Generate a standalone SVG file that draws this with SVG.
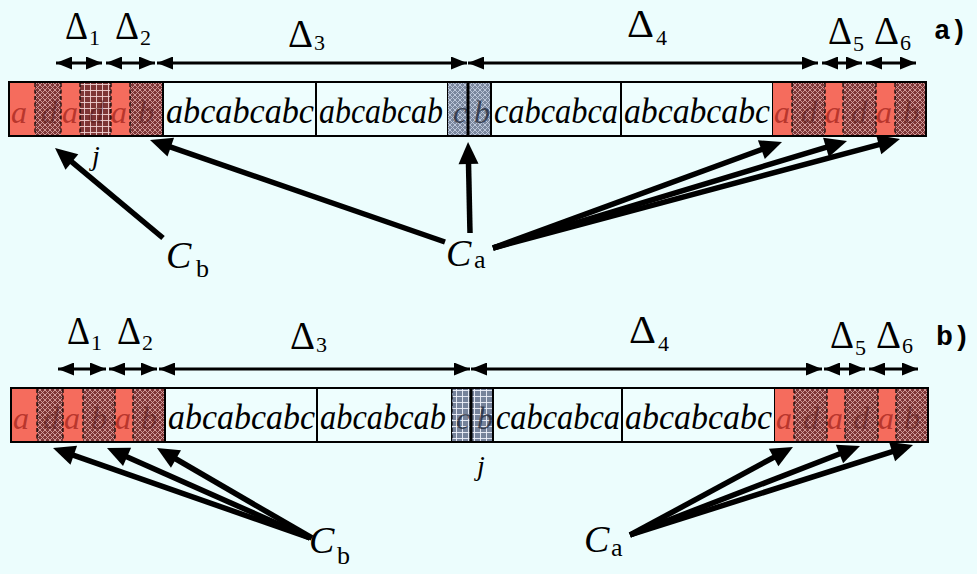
<svg xmlns="http://www.w3.org/2000/svg" width="977" height="574" viewBox="0 0 977 574">
<defs>
<pattern id="xh" patternUnits="userSpaceOnUse" width="5" height="5">
<rect width="5" height="5" fill="#7e3535"/>
<path d="M0,0 L5,5 M5,0 L0,5" stroke="#d6a3a3" stroke-width="0.9"/>
</pattern>
<pattern id="grid" patternUnits="userSpaceOnUse" width="6" height="6">
<rect width="6" height="6" fill="#7e3535"/>
<path d="M0,0.5 H6 M0.5,0 V6" stroke="#f0d0d0" stroke-width="0.9"/>
</pattern>
<pattern id="gxh" patternUnits="userSpaceOnUse" width="5" height="5">
<rect width="5" height="5" fill="#7a879d"/>
<path d="M0,0 L5,5 M5,0 L0,5" stroke="#c3cde0" stroke-width="0.9"/>
</pattern>
<pattern id="ggrid" patternUnits="userSpaceOnUse" width="6" height="6">
<rect width="6" height="6" fill="#76839b"/>
<path d="M0,0.5 H6 M0.5,0 V6" stroke="#eef2fa" stroke-width="0.9"/>
</pattern>
<marker id="sa" viewBox="0 0 16 13" markerWidth="16" markerHeight="13" refX="16" refY="6.5" markerUnits="userSpaceOnUse" orient="auto-start-reverse">
<path d="M0,0 L16,6.5 L0,13 z" fill="#000"/>
</marker>
<marker id="ba" viewBox="0 0 22 20" markerWidth="22" markerHeight="20" refX="6" refY="10" markerUnits="userSpaceOnUse" orient="auto" overflow="visible">
<path d="M0,0 L22,10 L0,20 z" fill="#000"/>
</marker>
</defs>
<style>
.red{fill:#f56c5d}
.hx{fill:url(#xh)}
.gr{fill:url(#grid)}
.gx{fill:url(#gxh)}
.gg{fill:url(#ggrid)}
.box{fill:#eefefe;stroke:#000;stroke-width:2}
.frame{fill:none;stroke:#000;stroke-width:2}
.dash{stroke:#000;stroke-width:1.2;stroke-dasharray:4 2.5}
.div{stroke:#000;stroke-width:3}
.it{font-family:"Liberation Serif","DejaVu Serif",serif;font-style:italic;font-size:36px;fill:#000}
.ra{font-family:"Liberation Serif","DejaVu Serif",serif;font-style:italic;font-size:32px;fill:#a82820;fill-opacity:0.8}
.hl{font-family:"Liberation Serif","DejaVu Serif",serif;font-style:italic;font-size:32px;fill:#4a0c0c;fill-opacity:0.45}
.gl{font-family:"Liberation Serif","DejaVu Serif",serif;font-style:italic;font-size:32px;fill:#1a2233;fill-opacity:0.75}
.dl{font-family:"Liberation Serif","DejaVu Serif",serif;font-size:40px;fill:#000}
.ds{font-family:"Liberation Serif","DejaVu Serif",serif;font-size:22px;fill:#000}
.cl{font-family:"Liberation Serif","DejaVu Serif",serif;font-style:italic;font-size:38px;fill:#000}
.cs{font-family:"Liberation Serif","DejaVu Serif",serif;font-size:26px;fill:#000}
.jl{font-family:"Liberation Serif","DejaVu Serif",serif;font-style:italic;font-size:28px;fill:#000}
.lab{font-family:"Liberation Mono","DejaVu Sans Mono",monospace;font-weight:bold;font-size:27px;fill:#000}
.dim{stroke:#000;stroke-width:3;fill:none;marker-start:url(#sa);marker-end:url(#sa)}
.con{stroke:#000;stroke-width:5.5;fill:none;marker-end:url(#ba)}
</style>
<rect x="0" y="0" width="977" height="574" fill="#ecfdfd"/>

<!-- Row a strip -->
<g id="strip-a">
<rect class="red" x="9" y="82" width="26" height="54"/>
<rect class="hx" x="35" y="82" width="26" height="54"/>
<rect class="red" x="61" y="82" width="19" height="54"/>
<rect class="gr" x="80" y="82" width="31" height="54"/>
<rect class="red" x="111" y="82" width="19" height="54"/>
<rect class="hx" x="130" y="82" width="33" height="54"/>
<rect class="box" x="163" y="82" width="153" height="54"/>
<rect class="box" x="316" y="82" width="132" height="54"/>
<rect class="gx" x="448" y="82" width="43" height="54"/>
<rect class="box" x="491" y="82" width="130" height="54"/>
<rect class="box" x="621" y="82" width="152" height="54"/>
<rect class="red" x="773" y="82" width="19" height="54"/>
<rect class="hx" x="792" y="82" width="33" height="54"/>
<rect class="red" x="825" y="82" width="18" height="54"/>
<rect class="hx" x="843" y="82" width="33" height="54"/>
<rect class="red" x="876" y="82" width="19" height="54"/>
<rect class="hx" x="895" y="82" width="31" height="54"/>
<text class="ra" x="11" y="123">a</text>
<text class="hl" x="41" y="123">d</text>
<text class="ra" x="62" y="123">a</text>
<text class="hl" x="88" y="123">d</text>
<text class="ra" x="111" y="123">a</text>
<text class="hl" x="138" y="123">b</text>
<text class="it" x="166" y="123" textLength="148" lengthAdjust="spacingAndGlyphs">abcabcabc</text>
<text class="it" x="319" y="123" textLength="124" lengthAdjust="spacingAndGlyphs">abcabcab</text>
<text class="gl" x="453" y="123">c</text>
<text class="gl" x="474" y="123">b</text>
<text class="it" x="494" y="123" textLength="124" lengthAdjust="spacingAndGlyphs">cabcabca</text>
<text class="it" x="624" y="123" textLength="146" lengthAdjust="spacingAndGlyphs">abcabcabc</text>
<text class="ra" x="774" y="123">a</text>
<text class="hl" x="801" y="123">d</text>
<text class="ra" x="825" y="123">a</text>
<text class="hl" x="851" y="123">d</text>
<text class="ra" x="876" y="123">a</text>
<text class="hl" x="903" y="123">b</text>
<line class="dash" x1="35" y1="83" x2="35" y2="135"/>
<line class="dash" x1="61" y1="83" x2="61" y2="135"/>
<line class="dash" x1="80" y1="83" x2="80" y2="135"/>
<line class="dash" x1="111" y1="83" x2="111" y2="135"/>
<line class="dash" x1="130" y1="83" x2="130" y2="135"/>
<line class="dash" x1="792" y1="83" x2="792" y2="135"/>
<line class="dash" x1="825" y1="83" x2="825" y2="135"/>
<line class="dash" x1="843" y1="83" x2="843" y2="135"/>
<line class="dash" x1="876" y1="83" x2="876" y2="135"/>
<line class="dash" x1="895" y1="83" x2="895" y2="135"/>
<line class="div" x1="468" y1="82" x2="468" y2="136"/>
<rect class="frame" x="9" y="82" width="917" height="54"/>
</g>

<!-- Row b strip -->
<g id="strip-b">
<rect class="red" x="11" y="388" width="26" height="54"/>
<rect class="hx" x="37" y="388" width="26" height="54"/>
<rect class="red" x="63" y="388" width="20" height="54"/>
<rect class="hx" x="83" y="388" width="32" height="54"/>
<rect class="red" x="115" y="388" width="18" height="54"/>
<rect class="hx" x="133" y="388" width="32" height="54"/>
<rect class="box" x="165" y="388" width="152" height="54"/>
<rect class="box" x="317" y="388" width="135" height="54"/>
<rect class="gg" x="452" y="388" width="41" height="54"/>
<rect class="box" x="493" y="388" width="129" height="54"/>
<rect class="box" x="622" y="388" width="153" height="54"/>
<rect class="red" x="775" y="388" width="19" height="54"/>
<rect class="hx" x="794" y="388" width="33" height="54"/>
<rect class="red" x="827" y="388" width="18" height="54"/>
<rect class="hx" x="845" y="388" width="33" height="54"/>
<rect class="red" x="878" y="388" width="18" height="54"/>
<rect class="hx" x="896" y="388" width="32" height="54"/>
<text class="ra" x="13" y="429">a</text>
<text class="hl" x="43" y="429">d</text>
<text class="ra" x="64" y="429">a</text>
<text class="hl" x="91" y="429">b</text>
<text class="ra" x="115" y="429">a</text>
<text class="hl" x="141" y="429">b</text>
<text class="it" x="168" y="429" textLength="147" lengthAdjust="spacingAndGlyphs">abcabcabc</text>
<text class="it" x="320" y="429" textLength="126" lengthAdjust="spacingAndGlyphs">abcabcab</text>
<text class="gl" x="456" y="429">c</text>
<text class="gl" x="477" y="429">b</text>
<text class="it" x="496" y="429" textLength="124" lengthAdjust="spacingAndGlyphs">cabcabca</text>
<text class="it" x="625" y="429" textLength="147" lengthAdjust="spacingAndGlyphs">abcabcabc</text>
<text class="ra" x="776" y="429">a</text>
<text class="hl" x="803" y="429">d</text>
<text class="ra" x="827" y="429">a</text>
<text class="hl" x="853" y="429">d</text>
<text class="ra" x="878" y="429">a</text>
<text class="hl" x="904" y="429">b</text>
<line class="dash" x1="37" y1="389" x2="37" y2="441"/>
<line class="dash" x1="63" y1="389" x2="63" y2="441"/>
<line class="dash" x1="83" y1="389" x2="83" y2="441"/>
<line class="dash" x1="115" y1="389" x2="115" y2="441"/>
<line class="dash" x1="133" y1="389" x2="133" y2="441"/>
<line class="dash" x1="794" y1="389" x2="794" y2="441"/>
<line class="dash" x1="827" y1="389" x2="827" y2="441"/>
<line class="dash" x1="845" y1="389" x2="845" y2="441"/>
<line class="dash" x1="878" y1="389" x2="878" y2="441"/>
<line class="dash" x1="896" y1="389" x2="896" y2="441"/>
<line class="dash" x1="452" y1="389" x2="452" y2="441"/>
<line class="dash" x1="493" y1="389" x2="493" y2="441"/>
<line class="div" x1="471" y1="388" x2="471" y2="442"/>
<rect class="frame" x="11" y="388" width="917" height="54"/>
</g>

<!-- Delta labels row a -->
<g id="deltas-a">
<text class="dl" x="65" y="39" textLength="23" lengthAdjust="spacingAndGlyphs">Δ</text><text class="ds" x="89" y="45">1</text>
<text class="dl" x="115" y="39" textLength="24" lengthAdjust="spacingAndGlyphs">Δ</text><text class="ds" x="140" y="45">2</text>
<text class="dl" x="288" y="47" textLength="25" lengthAdjust="spacingAndGlyphs">Δ</text><text class="ds" x="314" y="50">3</text>
<text class="dl" x="627" y="37" textLength="27" lengthAdjust="spacingAndGlyphs">Δ</text><text class="ds" x="656" y="45">4</text>
<text class="dl" x="828" y="44" textLength="24" lengthAdjust="spacingAndGlyphs">Δ</text><text class="ds" x="853" y="51">5</text>
<text class="dl" x="874" y="44" textLength="25" lengthAdjust="spacingAndGlyphs">Δ</text><text class="ds" x="900" y="50">6</text>
<text class="lab" x="934" y="39" textLength="33" lengthAdjust="spacingAndGlyphs">a)</text>
</g>

<!-- Delta labels row b -->
<g id="deltas-b">
<text class="dl" x="67" y="344" textLength="23" lengthAdjust="spacingAndGlyphs">Δ</text><text class="ds" x="91" y="350">1</text>
<text class="dl" x="117" y="344" textLength="24" lengthAdjust="spacingAndGlyphs">Δ</text><text class="ds" x="142" y="350">2</text>
<text class="dl" x="290" y="349" textLength="25" lengthAdjust="spacingAndGlyphs">Δ</text><text class="ds" x="316" y="352">3</text>
<text class="dl" x="629" y="343" textLength="27" lengthAdjust="spacingAndGlyphs">Δ</text><text class="ds" x="658" y="351">4</text>
<text class="dl" x="830" y="348" textLength="24" lengthAdjust="spacingAndGlyphs">Δ</text><text class="ds" x="855" y="355">5</text>
<text class="dl" x="876" y="348" textLength="25" lengthAdjust="spacingAndGlyphs">Δ</text><text class="ds" x="902" y="353">6</text>
<text class="lab" x="936" y="345" textLength="34" lengthAdjust="spacingAndGlyphs">b)</text>
</g>

<!-- j labels -->
<g id="j-a"><text class="jl" x="92" y="165">j</text></g>
<g id="j-b"><text class="jl" x="477" y="475">j</text></g>

<!-- C labels -->
<g id="Cb-a"><text class="cl" x="166" y="268">C</text><text class="cs" x="196" y="277">b</text></g>
<g id="Ca-a"><text class="cl" x="446" y="266">C</text><text class="cs" x="474" y="268">a</text></g>
<g id="Cb-b"><text class="cl" x="309" y="553">C</text><text class="cs" x="337" y="564">b</text></g>
<g id="Ca-b"><text class="cl" x="584" y="552">C</text><text class="cs" x="611" y="556">a</text></g>

<!-- dimension arrows -->
<g id="dims">
<line class="dim" x1="56" y1="63" x2="102" y2="63"/>
<line class="dim" x1="106" y1="63" x2="155" y2="63"/>
<line class="dim" x1="157" y1="63" x2="467" y2="63"/>
<line class="dim" x1="468" y1="63" x2="818" y2="63"/>
<line class="dim" x1="822" y1="63" x2="862" y2="63"/>
<line class="dim" x1="866" y1="63" x2="916" y2="63"/>
<line class="dim" x1="58" y1="369" x2="106" y2="369"/>
<line class="dim" x1="109" y1="369" x2="157" y2="369"/>
<line class="dim" x1="159" y1="369" x2="470" y2="369"/>
<line class="dim" x1="471" y1="369" x2="822" y2="369"/>
<line class="dim" x1="824" y1="369" x2="865" y2="369"/>
<line class="dim" x1="869" y1="369" x2="918" y2="369"/>
</g>

<!-- connectors -->
<g id="connectors">
<line class="con" x1="163" y1="238" x2="67.3" y2="158.2"/>
<line class="con" x1="445" y1="242" x2="165.1" y2="145.2"/>
<line class="con" x1="470" y1="233" x2="468.4" y2="158"/>
<line class="con" x1="493" y1="248" x2="767" y2="147.5"/>
<line class="con" x1="493" y1="248" x2="831.7" y2="145.6"/>
<line class="con" x1="493" y1="248" x2="884.5" y2="143.1"/>
<line class="con" x1="310" y1="538" x2="68.1" y2="453.3"/>
<line class="con" x1="310" y1="538" x2="121.6" y2="454.5"/>
<line class="con" x1="312" y1="538" x2="170.8" y2="456"/>
<line class="con" x1="630" y1="535" x2="778.9" y2="454.6"/>
<line class="con" x1="630" y1="535" x2="845.1" y2="451.8"/>
<line class="con" x1="630" y1="535" x2="897.8" y2="449.8"/>
</g>
</svg>
